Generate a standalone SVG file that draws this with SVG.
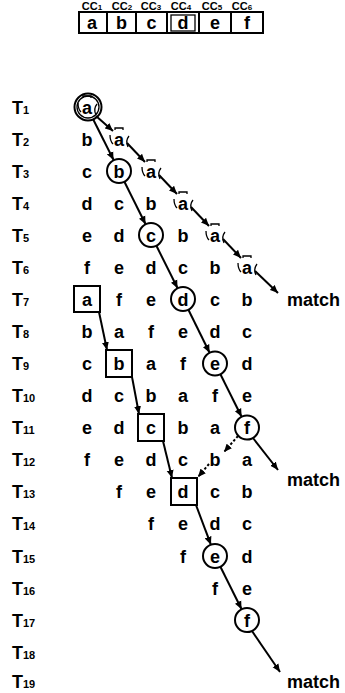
<svg xmlns="http://www.w3.org/2000/svg" xmlns:xlink="http://www.w3.org/1999/xlink" width="345" height="693" viewBox="0 0 345 693">
<style>
text{font-family:"Liberation Sans",Arial,Helvetica,sans-serif;fill:#000}
.t{font-size:18px;text-anchor:middle;font-weight:bold}
.lbl{font-size:18px;font-weight:bold}
.sub{font-size:11px}
.cc{font-size:11px;text-anchor:middle;font-weight:bold}
.m{font-size:18px;font-weight:bold}
.ring{fill:none;stroke:#000;stroke-width:2}
.thin{fill:none;stroke:#000;stroke-width:1.3}
.arr{fill:none;stroke:#000;stroke-width:2;marker-end:url(#ah)}
.dot{stroke-dasharray:2.5 2}
</style>
<defs>
<marker id="ah" markerUnits="userSpaceOnUse" markerWidth="9" markerHeight="8" refX="8" refY="4" orient="auto"><path d="M0,0.5 L8,4 L0,7.5 z" fill="#000"/></marker>
<path id="hk" class="thin" d="M-9,-4 Q-9,2 -6,5 M10,-3 Q6,2 9,8 M-4,-9 L-4,-11 L4,-11 L4,-9"/>
</defs>

<g id="header">
<text class="cc" x="92" y="10">CC<tspan font-size="8">1</tspan></text>
<text class="cc" x="122" y="10">CC<tspan font-size="8">2</tspan></text>
<text class="cc" x="151" y="10">CC<tspan font-size="8">3</tspan></text>
<text class="cc" x="181" y="10">CC<tspan font-size="8">4</tspan></text>
<text class="cc" x="212" y="10">CC<tspan font-size="8">5</tspan></text>
<text class="cc" x="242" y="10">CC<tspan font-size="8">6</tspan></text>
<rect x="79" y="12" width="184" height="21" class="ring"/>
<path d="M107,12V33M136,12V33M167,12V33M199,12V33M231,12V33" stroke="#000" stroke-width="2"/>
<rect x="171" y="15" width="24" height="16" class="thin"/>
<text class="t" x="92" y="29">a</text>
<text class="t" x="121.5" y="29">b</text>
<text class="t" x="151.5" y="29">c</text>
<text class="t" x="183" y="29">d</text>
<text class="t" x="215" y="29">e</text>
<text class="t" x="247" y="29">f</text>
</g>

<g id="labels">
<text class="lbl" x="12" y="113.5">T<tspan class="sub">1</tspan></text>
<text class="lbl" x="12" y="145.5">T<tspan class="sub">2</tspan></text>
<text class="lbl" x="12" y="177.5">T<tspan class="sub">3</tspan></text>
<text class="lbl" x="12" y="209.5">T<tspan class="sub">4</tspan></text>
<text class="lbl" x="12" y="241.5">T<tspan class="sub">5</tspan></text>
<text class="lbl" x="12" y="273.5">T<tspan class="sub">6</tspan></text>
<text class="lbl" x="12" y="305.5">T<tspan class="sub">7</tspan></text>
<text class="lbl" x="12" y="338">T<tspan class="sub">8</tspan></text>
<text class="lbl" x="12" y="370">T<tspan class="sub">9</tspan></text>
<text class="lbl" x="12" y="402">T<tspan class="sub">10</tspan></text>
<text class="lbl" x="12" y="434">T<tspan class="sub">11</tspan></text>
<text class="lbl" x="12" y="466">T<tspan class="sub">12</tspan></text>
<text class="lbl" x="12" y="498">T<tspan class="sub">13</tspan></text>
<text class="lbl" x="12" y="530">T<tspan class="sub">14</tspan></text>
<text class="lbl" x="12" y="562.5">T<tspan class="sub">15</tspan></text>
<text class="lbl" x="12" y="594.5">T<tspan class="sub">16</tspan></text>
<text class="lbl" x="12" y="626.5">T<tspan class="sub">17</tspan></text>
<text class="lbl" x="12" y="658.5">T<tspan class="sub">18</tspan></text>
<text class="lbl" x="12" y="688">T<tspan class="sub">19</tspan></text>
</g>

<g id="abar">
<circle cx="88" cy="107" r="13.5" class="ring"/>
<circle cx="88" cy="107" r="11" class="thin"/>
<text class="t" x="87" y="113.5">a</text><use xlink:href="#hk" x="87" y="107"/>
<text class="t" x="119" y="145.5">a</text><use xlink:href="#hk" x="119" y="139"/>
<text class="t" x="151" y="177.5">a</text><use xlink:href="#hk" x="151" y="171"/>
<text class="t" x="183" y="209.5">a</text><use xlink:href="#hk" x="183" y="203"/>
<text class="t" x="215" y="241.5">a</text><use xlink:href="#hk" x="215" y="235"/>
<text class="t" x="247" y="273.5">a</text><use xlink:href="#hk" x="247" y="267"/>
</g>

<g id="circled">
<circle cx="119" cy="171" r="12" class="ring"/>
<circle cx="151" cy="235" r="12" class="ring"/>
<circle cx="183" cy="299" r="12" class="ring"/>
<circle cx="215" cy="363.5" r="12" class="ring"/>
<circle cx="247" cy="427.5" r="12" class="ring"/>
<circle cx="215" cy="556" r="12" class="ring"/>
<circle cx="247" cy="620" r="12" class="ring"/>
</g>

<g id="boxed">
<rect x="74" y="286" width="26" height="26" class="ring"/>
<rect x="106" y="350" width="26" height="27" class="ring"/>
<rect x="138" y="414" width="26" height="27" class="ring"/>
<rect x="171" y="478" width="26" height="27" class="ring"/>
</g>

<g id="rows">
<text class="t" x="87" y="145.5">b</text>
<text class="t" x="87" y="177.5">c</text><text class="t" x="119" y="177.5">b</text>
<text class="t" x="87" y="209.5">d</text><text class="t" x="119" y="209.5">c</text><text class="t" x="151" y="209.5">b</text>
<text class="t" x="87" y="241.5">e</text><text class="t" x="119" y="241.5">d</text><text class="t" x="151" y="241.5">c</text><text class="t" x="183" y="241.5">b</text>
<text class="t" x="87" y="273.5">f</text><text class="t" x="119" y="273.5">e</text><text class="t" x="151" y="273.5">d</text><text class="t" x="183" y="273.5">c</text><text class="t" x="215" y="273.5">b</text>
<text class="t" x="87" y="305.5">a</text><text class="t" x="119" y="305.5">f</text><text class="t" x="151" y="305.5">e</text><text class="t" x="183" y="305.5">d</text><text class="t" x="215" y="305.5">c</text><text class="t" x="247" y="305.5">b</text>
<text class="t" x="87" y="338">b</text><text class="t" x="119" y="338">a</text><text class="t" x="151" y="338">f</text><text class="t" x="183" y="338">e</text><text class="t" x="215" y="338">d</text><text class="t" x="247" y="338">c</text>
<text class="t" x="87" y="370">c</text><text class="t" x="119" y="370">b</text><text class="t" x="151" y="370">a</text><text class="t" x="183" y="370">f</text><text class="t" x="215" y="370">e</text><text class="t" x="247" y="370">d</text>
<text class="t" x="87" y="402">d</text><text class="t" x="119" y="402">c</text><text class="t" x="151" y="402">b</text><text class="t" x="183" y="402">a</text><text class="t" x="215" y="402">f</text><text class="t" x="247" y="402">e</text>
<text class="t" x="87" y="434">e</text><text class="t" x="119" y="434">d</text><text class="t" x="151" y="434">c</text><text class="t" x="183" y="434">b</text><text class="t" x="215" y="434">a</text><text class="t" x="247" y="434">f</text>
<text class="t" x="87" y="466">f</text><text class="t" x="119" y="466">e</text><text class="t" x="151" y="466">d</text><text class="t" x="183" y="466">c</text><text class="t" x="215" y="466">b</text><text class="t" x="247" y="466">a</text>
<text class="t" x="119" y="498">f</text><text class="t" x="151" y="498">e</text><text class="t" x="183" y="498">d</text><text class="t" x="215" y="498">c</text><text class="t" x="247" y="498">b</text>
<text class="t" x="151" y="530">f</text><text class="t" x="183" y="530">e</text><text class="t" x="215" y="530">d</text><text class="t" x="247" y="530">c</text>
<text class="t" x="183" y="562.5">f</text><text class="t" x="215" y="562.5">e</text><text class="t" x="247" y="562.5">d</text>
<text class="t" x="215" y="594.5">f</text><text class="t" x="247" y="594.5">e</text>
<text class="t" x="247" y="626.5">f</text>
</g>

<g id="matches">
<text class="m" x="287" y="305.5">match</text>
<text class="m" x="287" y="486">match</text>
<text class="m" x="287" y="688">match</text>
</g>

<g id="connectors">
<path class="arr" d="M96,116 L113,131"/>
<path class="arr" d="M127,143 L145,162"/>
<path class="arr" d="M159,175 L177,194"/>
<path class="arr" d="M191,207 L209,226"/>
<path class="arr" d="M223,239 L241,258"/>
<path class="arr" d="M255,271 L278,293"/>
<path class="arr" d="M93,119 L113.6,160"/>
<path class="arr" d="M124.4,181.7 L145.6,224.3"/>
<path class="arr" d="M156.4,245.7 L177.6,288.3"/>
<path class="arr" d="M188.4,309.7 L209.6,352.8"/>
<path class="arr" d="M220.4,374.2 L241.6,416.8"/>
<path class="arr" d="M253,438 L278,470"/>
<path class="arr" d="M99,312 L107,350"/>
<path class="arr" d="M132,377 L139,414"/>
<path class="arr" d="M163,441 L172,478"/>
<path class="arr" d="M196,505 L210.9,544.7"/>
<path class="arr" d="M220.4,566.7 L241.6,609.3"/>
<path class="arr" d="M252,631 L280,672"/>
<path class="arr dot" d="M238,436 L224,452"/>
<path class="arr dot" d="M209,464 L198,477"/>
</g>
</svg>
